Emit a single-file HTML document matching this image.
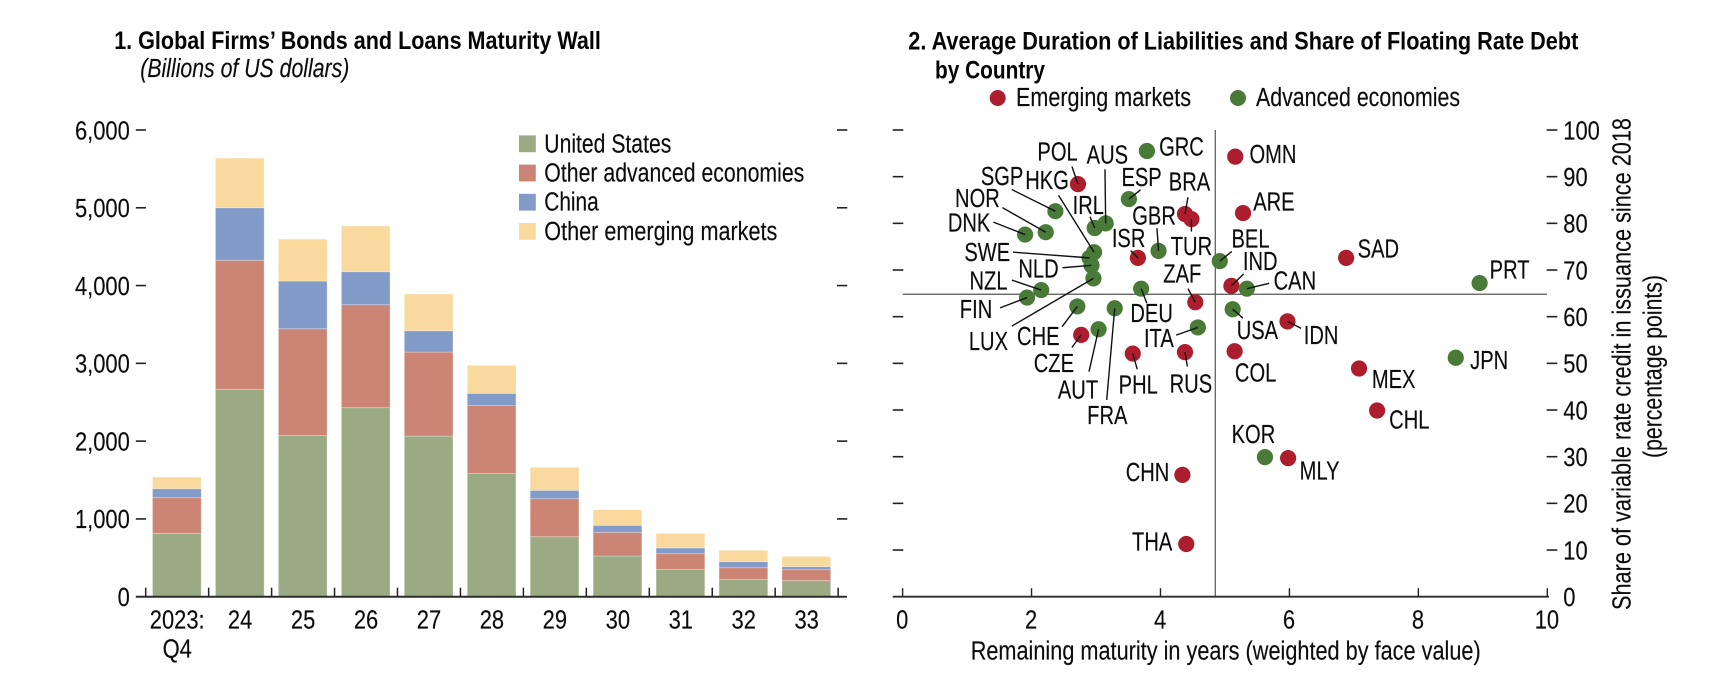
<!DOCTYPE html>
<html lang="en">
<head>
<meta charset="utf-8">
<title>Global Firms' Maturity Wall and Floating Rate Debt</title>
<style>
html,body{margin:0;padding:0;background:#fff;width:1720px;height:692px;overflow:hidden}
svg{display:block}
text{font-family:"Liberation Sans",sans-serif;font-size:25.5px;fill:#0c0c0c;stroke:#0c0c0c;stroke-width:.15px}
.ttl{font-weight:700;font-size:25px;fill:#050505;stroke:none}
</style>
</head>
<body>
<svg id="fig" xmlns="http://www.w3.org/2000/svg" width="1720" height="692" viewBox="0 0 1720 692">
  <g>
    <text class="ttl" x="114.2" y="49" textLength="486.7" lengthAdjust="spacingAndGlyphs">1. Global Firms’ Bonds and Loans Maturity Wall</text>
    <text x="140.3" y="77" font-style="italic" textLength="209" lengthAdjust="spacingAndGlyphs">(Billions of US dollars)</text>
  </g>
  <g>
    <text class="ttl" x="908.3" y="49.3" textLength="670" lengthAdjust="spacingAndGlyphs">2. Average Duration of Liabilities and Share of Floating Rate Debt</text>
    <text class="ttl" x="935" y="78.3" textLength="110" lengthAdjust="spacingAndGlyphs">by Country</text>
  </g>
  <g id="bars"></g>
  <g>
    <g>
      <rect x="519" y="135.4" width="16.8" height="16.8" fill="#9BAA83"/>
      <text x="544.3" y="152.3" textLength="127" lengthAdjust="spacingAndGlyphs">United States</text>
    </g>
    <g>
      <rect x="519" y="164.6" width="16.8" height="16.8" fill="#CC8574"/>
      <text x="544.3" y="181.3" textLength="260" lengthAdjust="spacingAndGlyphs">Other advanced economies</text>
    </g>
    <g>
      <rect x="519" y="193.8" width="16.8" height="16.8" fill="#839BC9"/>
      <text x="544.3" y="210.7" textLength="54.4" lengthAdjust="spacingAndGlyphs">China</text>
    </g>
    <g>
      <rect x="519" y="223" width="16.8" height="16.8" fill="#F9D99E"/>
      <text x="544.3" y="240" textLength="233" lengthAdjust="spacingAndGlyphs">Other emerging markets</text>
    </g>
  </g>
  <g id="scatter"></g>
  <g>
    <g>
      <circle cx="997.7" cy="98" r="8" fill="#AC1E2D"/>
      <text x="1016" y="106" textLength="175" lengthAdjust="spacingAndGlyphs">Emerging markets</text>
    </g>
    <g>
      <circle cx="1238" cy="98" r="8" fill="#4A7A38"/>
      <text x="1256" y="106" textLength="204" lengthAdjust="spacingAndGlyphs">Advanced economies</text>
    </g>
  </g>
  <text x="970.7" y="659.3" textLength="510" lengthAdjust="spacingAndGlyphs">Remaining maturity in years (weighted by face value)</text>
  <text transform="translate(1630.7,610) rotate(-90)" textLength="492" lengthAdjust="spacingAndGlyphs">Share of variable rate credit in issuance since 2018</text>
  <text transform="translate(1661.7,458) rotate(-90)" textLength="183" lengthAdjust="spacingAndGlyphs">(percentage points)</text>
</svg>
<script>
/* ---- Panel 1 data ---- */
const barCategories = ['2023:', '24', '25', '26', '27', '28', '29', '30', '31', '32', '33'];
const unitedStates = [814, 2665, 2074, 2430, 2065, 1585, 771, 523, 351, 223, 206];
const otherAdvanced = [459, 1659, 1371, 1324, 1080, 875, 489, 304, 202, 150, 141];
const china = [115, 676, 613, 424, 274, 154, 107, 90, 73, 77, 39];
const otherEmerging = [150, 638, 539, 587, 472, 360, 296, 201, 188, 146, 132];
const barTickValues = [0, 1000, 2000, 3000, 4000, 5000, 6000];
const barTickLabels = ['0', '1,000', '2,000', '3,000', '4,000', '5,000', '6,000'];

/* ---- Panel 2 data ---- */
const countries = ['POL','AUS','SGP','HKG','ESP','NOR','IRL','DNK','SWE','NLD','ISR','NZL','FIN','LUX','CHE','CZE','AUT','FRA','PHL','RUS','COL','MEX','JPN','CHL','KOR','MLY','CHN','THA','GRC','OMN','BRA','ARE','GBR','TUR','BEL','SAD','IND','CAN','PRT','ZAF','DEU','USA','IDN','ITA'];
const remainingMaturity = [2.72,3.15,2.37,2.97,3.51,2.22,2.98,1.90,2.90,2.93,3.65,2.15,1.93,2.96,2.71,2.77,3.04,3.29,3.57,4.38,5.15,7.08,8.58,7.36,5.62,5.98,4.34,4.40,3.79,5.16,4.38,5.28,3.97,4.48,4.92,6.88,5.10,5.34,8.95,4.54,3.70,5.12,5.97,4.58];
const floatingShare = [88.4,80.0,82.6,73.8,85.2,78.1,79.0,77.6,72.6,71.0,72.6,65.7,64.1,68.2,62.2,56.1,57.3,61.8,52.1,52.4,52.6,48.9,51.2,39.9,29.9,29.7,26.1,11.3,95.5,94.3,82.0,82.2,74.1,80.9,71.9,72.6,66.6,66.0,67.2,63.1,66.0,61.6,59.0,57.7];
const economyGroup = ['E','A','A','A','A','A','A','A','A','A','E','A','A','A','A','E','A','A','E','E','E','E','A','E','A','E','E','E','A','E','E','E','A','E','A','E','E','A','A','E','A','A','E','A'];
const scatterXTicks = [0, 2, 4, 6, 8, 10];
const scatterYTicks = [0, 10, 20, 30, 40, 50, 60, 70, 80, 90, 100];
const referenceMaturity = 4.85;
const referenceShare = 64.8;

/* Annotation placement relative to each dot: label dx, dy, leader dx, dy */
const labelPlacement = {
  POL:[-20.4,-23.6,-6,-17.6], AUS:[1.7,-60,-.7,-54], SGP:[-53.3,-26,-43.6,-21.7], HKG:[-47,-63.3,-35.6,-57],
  ESP:[12.7,-13.3,11.7,-9.3], NOR:[-68.3,-25,-43.3,-24.6], IRL:[-6.4,-14,-4.7,-11.3], DNK:[-56,-3,-31.7,-12.4],
  SWE:[-102.3,3,-76.6,-5.7], NLD:[-53,12,-29,2.4], ISR:[-9.3,-10.7,-7.3,-7.3], NZL:[-52.7,-.7,-29.3,-10],
  FIN:[-51,20.6,-27,10.3], LUX:[-105,71.7,-81.6,47.7], CHE:[-39,38.7,-15.3,20.4], CZE:[-27.3,37,-9.3,12.6],
  AUT:[-20.6,69,-9.6,42.4], FRA:[-7.4,115.7,-8,91.7], PHL:[5.5,39.8,4.5,15.8], RUS:[5.9,40.4,2.4,14.4],
  COL:[21,30.3], MEX:[34.6,19.4], JPN:[33.4,11.3], CHL:[32.2,18], KOR:[-11.5,-14.3], MLY:[31.5,21.3],
  CHN:[-34.9,6.3], THA:[-34.1,6.7], GRC:[34.5,4.3], OMN:[37.7,6.6], BRA:[4.5,-23.3,3,-16.7], ARE:[30.9,-2.6],
  GBR:[-4.5,-26.3,-1.6,-22.7], TUR:[0,36,0,12.4], BEL:[30.7,-13.7,12,-9.7], SAD:[32.2,-.4], IND:[28.8,-16,12.3,-12],
  CAN:[48,.6,22.3,-5.4], PRT:[30,-4.6], ZAF:[-13,-19.6,-7.3,-13.6], DEU:[10.5,33.3,5.7,14.6], USA:[24.7,29.7,10.3,9],
  IDN:[33.6,22.7,13.6,7], ITA:[-39,19.4,-21.7,7.7]
};

const NS = 'http://www.w3.org/2000/svg';
function make(parent, tag, props) {
  const el = document.createElementNS(NS, tag);
  for (const k in props) el.setAttribute(k, props[k]);
  parent.appendChild(el);
  return el;
}
function label(parent, str, x, y, anchor, sx) {
  const el = make(parent, 'text', {transform: 'translate(' + x + ' ' + y + ') scale(' + sx + ' 1)', 'text-anchor': anchor});
  el.textContent = str;
  return el;
}
function seg(parent, x1, y1, x2, y2, color, w) {
  return make(parent, 'line', {x1: x1, y1: y1, x2: x2, y2: y2, stroke: color, 'stroke-width': w});
}

/* shared vertical scales */
const baseY = 596.7;
const barY = v => baseY - v * 466.7 / 6000;
const shareY = v => baseY - v * 466.7 / 100;
const matX = v => 902.6 + v * 64.47;
const inkDark = '#222';
const digitSqueeze = .86;
const codeSqueeze = .79;

/* ---- Panel 1 ---- */
const barsRoot = document.getElementById('bars');
const bandStart = 145.7, bandStep = 62.95, barWidth = 48.7, barInset = 6.8;
const stackSeries = [
  {key: 'united-states', values: unitedStates, color: '#9BAA83'},
  {key: 'other-advanced', values: otherAdvanced, color: '#CC8574'},
  {key: 'china', values: china, color: '#839BC9'},
  {key: 'other-emerging', values: otherEmerging, color: '#F9D99E'}
];
barCategories.forEach((cat, i) => {
  let sum = 0;
  const bx = bandStart + bandStep * i + barInset;
  stackSeries.forEach(s => {
    const v = s.values[i];
    const top = barY(sum + v);
    const bar = make(barsRoot, 'rect', {x: bx, y: top, width: barWidth, height: barY(sum) - top, fill: s.color, stroke: '#fff', 'stroke-opacity': .35, 'stroke-width': .8});
    
    
    sum += v;
  });
  const cx = bandStart + bandStep * (i + .5);
  const tl = label(barsRoot, cat, cx, 628.7, 'middle', digitSqueeze);
  
  
});
const q4 = label(barsRoot, 'Q4', bandStart + bandStep * .5, 657.3, 'middle', digitSqueeze);



const barAxis = seg(barsRoot, 135.8, baseY, 847, baseY, '#2c2c2c', 2);


for (let i = 0; i <= barCategories.length; i++) {
  const tx = bandStart + bandStep * i;
  const t = seg(barsRoot, tx, baseY, tx, baseY - 9, inkDark, 1.5);
  
  
}
barTickValues.forEach((v, i) => {
  const y = barY(v);
  if (v > 0) {
    const lt = seg(barsRoot, 135.8, y, 145.9, y, inkDark, 1.6);
    
    
    const rt = seg(barsRoot, 837, y, 847.3, y, inkDark, 1.6);
    
    
  }
  const tl = label(barsRoot, barTickLabels[i], 129.8, y + 9.3, 'end', digitSqueeze);
  
  
});

/* ---- Panel 2 ---- */
const scatterRoot = document.getElementById('scatter');
const refH = seg(scatterRoot, 902.7, shareY(referenceShare), 1547, shareY(referenceShare), '#555', 1.2);


const refV = seg(scatterRoot, matX(referenceMaturity), 130, matX(referenceMaturity), baseY, '#555', 1.2);


const scAxis = seg(scatterRoot, 892.7, baseY, 1549, baseY, '#2c2c2c', 1.8);


scatterXTicks.forEach(v => {
  const x = matX(v);
  const t = seg(scatterRoot, x, baseY, x, baseY - 8.5, inkDark, 1.4);
  
  
  const tl = label(scatterRoot, String(v), x - .4, 628.7, 'middle', digitSqueeze);
  
  
});
scatterYTicks.forEach(v => {
  const y = shareY(v);
  if (v > 0) {
    const lt = seg(scatterRoot, 892.7, y, 903.3, y, inkDark, 1.6);
    
    
    const rt = seg(scatterRoot, 1546.7, y, 1557.3, y, inkDark, 1.6);
    
    
  }
  const tl = label(scatterRoot, String(v), 1563.3, y + 9.3, 'start', digitSqueeze);
  
  
});
countries.forEach((c, i) => {
  const dot = make(scatterRoot, 'circle', {cx: matX(remainingMaturity[i]), cy: shareY(floatingShare[i]), r: 8.1, fill: economyGroup[i] === 'E' ? '#AC1E2D' : '#4A7A38'});
  
  
});
countries.forEach((c, i) => {
  const px = matX(remainingMaturity[i]);
  const py = shareY(floatingShare[i]);
  const p = labelPlacement[c];
  if (p.length > 2) {
    const lead = seg(scatterRoot, px + p[2], py + p[3], px, py, '#111', 1.4);
    
    
  }
  const tl = label(scatterRoot, c, px + p[0], py + p[1], 'middle', codeSqueeze);
  
  
});
</script>
</body>
</html>
